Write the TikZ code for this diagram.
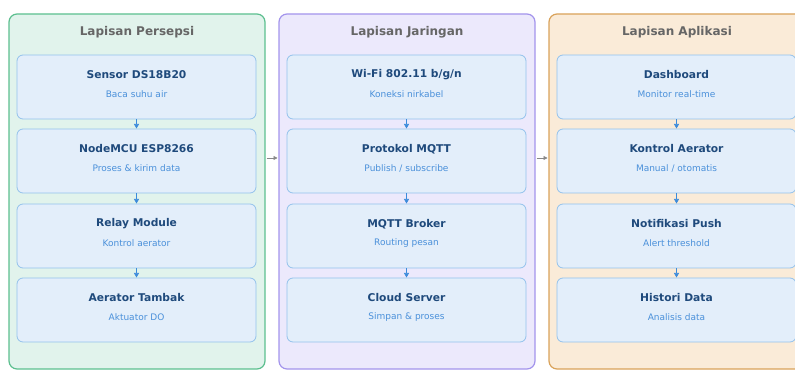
\documentclass[tikz,border=0pt]{standalone}
\usepackage{fontspec}
\setmainfont{DejaVu Sans}
\usetikzlibrary{arrows.meta,calc}
\definecolor{gfill}{HTML}{E1F3EC}
\definecolor{gdraw}{HTML}{5CBF8F}
\definecolor{pfill}{HTML}{ECE9FC}
\definecolor{pdraw}{HTML}{A394EC}
\definecolor{ofill}{HTML}{FAEBD8}
\definecolor{odraw}{HTML}{D9A25A}
\definecolor{bfill}{HTML}{E3EEFA}
\definecolor{bdraw}{HTML}{93C2EC}
\definecolor{ttext}{HTML}{1F4A7C}
\definecolor{stext}{HTML}{4A90DA}
\definecolor{htext}{HTML}{666666}
\definecolor{farrow}{HTML}{3C8BDB}
\definecolor{garrow}{HTML}{888888}
\tikzset{
  panel/.style={rounded corners=8pt, line width=1.2pt},
  inbox/.style={draw=bdraw, fill=bfill, rounded corners=6pt, line width=0.8pt},
  ptitle/.style={font=\fontsize{12}{14}\selectfont\bfseries, text=htext},
  btitle/.style={font=\fontsize{10.7}{13}\selectfont\bfseries, text=ttext},
  bsub/.style={font=\fontsize{9}{11}\selectfont, text=stext},
  flow/.style={draw=farrow, line width=0.6pt, -{Triangle[length=4.5pt,width=5pt]}},
  cross/.style={draw=garrow, line width=0.6pt, -{Triangle[length=4pt,width=4pt]}}
}
\begin{document}
\begin{tikzpicture}[x=1pt,y=-1pt]
\useasboundingbox (0,0) rectangle (795,371);
\clip (0,0) rectangle (795,371);
% panels
\draw[panel, draw=gdraw, fill=gfill] (9,14) rectangle (265,369);
\draw[panel, draw=pdraw, fill=pfill] (279,14) rectangle (535,369);
\draw[panel, draw=odraw, fill=ofill] (549,14) rectangle (805,369);
\node[ptitle] (t1) at (137,32) {Lapisan Persepsi};
\node[ptitle] (t2) at (407,32) {Lapisan Jaringan};
\node[ptitle] (t3) at (677,32) {Lapisan Aplikasi};
% panel anchors for cross arrows
\coordinate (p1r) at (266.5,158);
\coordinate (p2l) at (277.5,158);
\coordinate (p2r) at (536.5,158);
\coordinate (p3l) at (547.5,158);
\draw[cross] (p1r) -- (p2l);
\draw[cross] (p2r) -- (p3l);
% boxes
\foreach \col/\x/\ta/\sa/\tb/\sb/\tc/\sc/\td/\sd in {
 a/17/{Sensor DS18B20}/{Baca suhu air}/{NodeMCU ESP8266}/{Proses \& kirim data}/{Relay Module}/{Kontrol aerator}/{Aerator Tambak}/{Aktuator DO},
 b/287/{Wi-Fi 802.11 b/g/n}/{Koneksi nirkabel}/{Protokol MQTT}/{Publish / subscribe}/{MQTT Broker}/{Routing pesan}/{Cloud Server}/{Simpan \& proses},
 c/557/{Dashboard}/{Monitor real-time}/{Kontrol Aerator}/{Manual / otomatis}/{Notifikasi Push}/{Alert threshold}/{Histori Data}/{Analisis data}}{
  \path[inbox] (\x,55) rectangle ++(239,64);
  \path[inbox] (\x,129) rectangle ++(239,64);
  \path[inbox] (\x,204) rectangle ++(239,64);
  \path[inbox] (\x,278) rectangle ++(239,64);
  \coordinate (\col1b) at (\x+119.5,119.5);
  \coordinate (\col2t) at (\x+119.5,128.5); \coordinate (\col2b) at (\x+119.5,193.5);
  \coordinate (\col3t) at (\x+119.5,203.5); \coordinate (\col3b) at (\x+119.5,268.5);
  \coordinate (\col4t) at (\x+119.5,277.5);
  \node[btitle] (\col1h) at (\x+119.5,75) {\ta};
  \node[bsub] (\col1s) at (\x+119.5,94) {\sa};
  \node[btitle] (\col2h) at (\x+119.5,149) {\tb};
  \node[bsub] (\col2s) at (\x+119.5,168.5) {\sb};
  \node[btitle] (\col3h) at (\x+119.5,224) {\tc};
  \node[bsub] (\col3s) at (\x+119.5,243) {\sc};
  \node[btitle] (\col4h) at (\x+119.5,298) {\td};
  \node[bsub] (\col4s) at (\x+119.5,317.5) {\sd};
  \draw[flow] (\col1b) -- (\col2t);
  \draw[flow] (\col2b) -- (\col3t);
  \draw[flow] (\col3b) -- (\col4t);
}
\end{tikzpicture}
\end{document}
